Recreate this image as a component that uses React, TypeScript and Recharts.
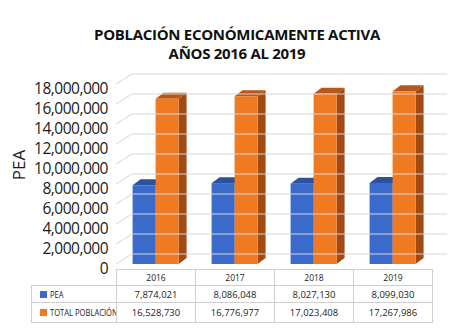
import { Bar, BarChart, XAxis, YAxis } from 'recharts';

const years = ['2016', '2017', '2018', '2019'];
const pea = [7874021, 8086048, 8027130, 8099030];
const totalPoblacion = [16528730, 16776977, 17023408, 17267986];
const yTicks = [0, 2000000, 4000000, 6000000, 8000000, 10000000, 12000000, 14000000, 16000000, 18000000];

const data = years.map((year, i) => ({ year, pea: pea[i], total: totalPoblacion[i] }));

const fmt = (v: number) => v.toLocaleString('en-US');

const DX = 8;
const DY = 6;
const WALL_X = 16;
const WALL_Y = 10;

function make3D(front: string, top: string, side: string) {
  return (props: any) => {
    const { x, y, width, height } = props;
    if (!height) return null;
    return (
      <g>
        <path d={`M${x},${y} L${x + DX},${y - DY} L${x + width + DX},${y - DY} L${x + width},${y} Z`} fill={top} />
        <path
          d={`M${x + width},${y} L${x + width + DX},${y - DY} L${x + width + DX},${y + height - DY} L${x + width},${y + height} Z`}
          fill={side}
        />
        <rect x={x} y={y} width={width} height={height} fill={front} />
      </g>
    );
  };
}

const PlotLeft = 116;
const PlotRight = 432;

function YTick(props: any) {
  const { y, payload } = props;
  const xl = PlotLeft;
  return (
    <g>
      <line x1={xl} y1={y} x2={xl + WALL_X} y2={y - WALL_Y} stroke="#d6d6d6" strokeWidth={1} />
      <line x1={xl + WALL_X} y1={y - WALL_Y} x2={447} y2={y - WALL_Y} stroke="#d6d6d6" strokeWidth={1} />
      <text
        x={108}
        y={y + 4}
        textAnchor="end"
        dominantBaseline="central"
        fontSize={15.5}
        letterSpacing={-0.5}
        fill="#1a1a1a"
        fontFamily="'Open Sans', sans-serif"
      >
        {fmt(payload.value)}
      </text>
    </g>
  );
}

const colLeft = 31;
const border = '1px solid #cfcfcf';
const cell: React.CSSProperties = {
  borderRight: border,
  borderBottom: border,
  textAlign: 'center',
  padding: 0,
};

function LegendLabel({ color, label }: { color: string; label: string }) {
  return (
    <>
      <span style={{ display: 'inline-block', width: 7, height: 7, background: color, marginRight: 3, verticalAlign: 'middle' }} />
      <span
        style={{
          display: 'inline-block',
          transform: 'scaleX(0.8)',
          transformOrigin: 'left center',
          verticalAlign: 'middle',
        }}
      >
        {label}
      </span>
    </>
  );
}

export default function App() {
  const colW = (PlotRight - PlotLeft) / years.length;
  const legendCell: React.CSSProperties = {
    ...cell,
    textAlign: 'left',
    borderLeft: border,
    paddingLeft: 8,
    whiteSpace: 'nowrap',
    overflow: 'hidden',
    fontSize: 9.5,
  };
  return (
    <div
      style={{
        position: 'absolute',
        left: 0,
        top: 0,
        width: 474,
        height: 332,
        background: '#fff',
        fontFamily: "'Open Sans', sans-serif",
        overflow: 'hidden',
      }}
    >
      <div
        style={{
          position: 'absolute',
          left: 0,
          top: 25,
          width: 474,
          textAlign: 'center',
          fontWeight: 700,
          fontSize: 15,
          lineHeight: '19px',
          color: '#111',
          letterSpacing: -0.3,
        }}
      >
        POBLACIÓN ECONÓMICAMENTE ACTIVA
        <br />
        AÑOS 2016 AL 2019
      </div>
      <div
        style={{
          position: 'absolute',
          left: 18,
          top: 165,
          transform: 'translate(-50%, -50%) rotate(-90deg)',
          fontSize: 17,
          color: '#1a1a1a',
        }}
      >
        PEA
      </div>
      <div style={{ position: 'absolute', left: 0, top: 0 }}>
        <BarChart
          width={474}
          height={332}
          data={data}
          margin={{ top: 84, right: 474 - PlotRight, bottom: 68, left: 0 }}
          barCategoryGap="21%"
          barGap={0}
        >
          <XAxis dataKey="year" hide />
          <YAxis
            domain={[0, 18000000]}
            ticks={yTicks}
            axisLine={false}
            tickLine={false}
            tick={<YTick />}
            width={PlotLeft}
            interval={0}
          />
          <Bar dataKey="pea" shape={make3D('#3a6bcc', '#2c519e', '#244585')} isAnimationActive={false} />
          <Bar dataKey="total" shape={make3D('#f07a22', '#b9571a', '#a24a12')} isAnimationActive={false} />
        </BarChart>
      </div>
      <table
        style={{
          position: 'absolute',
          left: colLeft,
          top: 269,
          borderCollapse: 'collapse',
          fontSize: 9.5,
          color: '#222',
          tableLayout: 'fixed',
          width: PlotRight - colLeft,
        }}
      >
        <colgroup>
          <col style={{ width: PlotLeft - colLeft }} />
          {years.map((y) => (
            <col key={y} style={{ width: colW }} />
          ))}
        </colgroup>
        <tbody>
          <tr style={{ height: 16 }}>
            <td style={{ padding: 0, borderRight: border, borderBottom: border }} />
            {years.map((y) => (
              <td key={y} style={{ ...cell, borderTop: border, fontSize: 8.5 }}>
                {y}
              </td>
            ))}
          </tr>
          <tr style={{ height: 17 }}>
            <td style={legendCell}>
              <LegendLabel color="#3a6bcc" label="PEA" />
            </td>
            {pea.map((v, i) => (
              <td key={i} style={cell}>
                {fmt(v)}
              </td>
            ))}
          </tr>
          <tr style={{ height: 20 }}>
            <td style={legendCell}>
              <LegendLabel color="#f07a22" label="TOTAL POBLACIÓN" />
            </td>
            {totalPoblacion.map((v, i) => (
              <td key={i} style={cell}>
                {fmt(v)}
              </td>
            ))}
          </tr>
        </tbody>
      </table>
    </div>
  );
}
